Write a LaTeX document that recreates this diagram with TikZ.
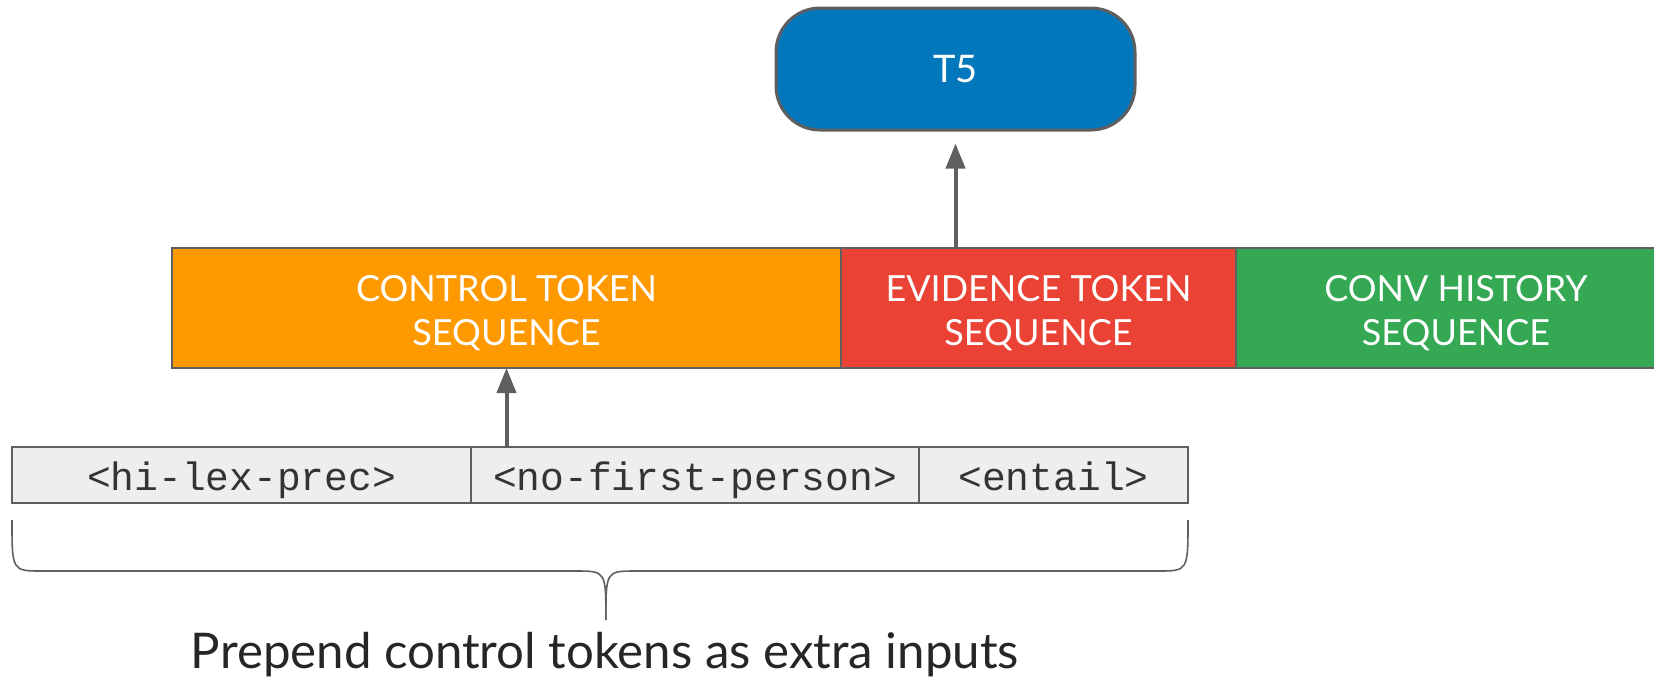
\documentclass[tikz,border=0pt]{standalone}
\usepackage{fontspec}
\setmainfont{Lato}
\setmonofont{Liberation Mono}
\usetikzlibrary{arrows.meta,positioning,calc}
\definecolor{seqorange}{HTML}{FF9900}
\definecolor{seqred}{HTML}{EA4335}
\definecolor{seqgreen}{HTML}{34A853}
\definecolor{modelblue}{HTML}{0377BC}
\definecolor{edgegray}{HTML}{5F5F5F}
\definecolor{tokfill}{HTML}{EEEEEE}
\definecolor{toktext}{HTML}{333333}
\tikzset{
  >={Triangle[length=12.5pt,width=9.5pt]},
  seqbox/.style={draw=edgegray,line width=1pt,outer sep=0pt,align=center,
                 text=white,font=\fontsize{18}{22}\selectfont,
                 text height=37pt,text depth=0pt,
                 minimum height=60pt,inner sep=0pt},
  modelbox/.style={draw=edgegray,line width=1.5pt,fill=modelblue,rounded corners=22pt,
                   text=white,font=\fontsize{19}{22}\selectfont,
                   minimum width=179.5pt,minimum height=61pt,inner sep=0pt},
  tokbox/.style={draw=edgegray,line width=0.8pt,fill=tokfill,outer sep=0pt,
                 text=toktext,font=\ttfamily\fontsize{19.8}{22}\selectfont,
                 text height=15pt,text depth=0pt,
                 minimum height=28pt,inner sep=0pt},
  feedarrow/.style={->,line width=2pt,draw=edgegray,fill=edgegray},
  bracestroke/.style={draw=edgegray,line width=0.8pt},
}

\begin{document}
\begin{tikzpicture}[x=0.5pt,y=-0.5pt]
  \clip (0,0) rectangle (1654,677);
  \node[modelbox] (t5) at (955.5,69) {T5};
  \node[seqbox,fill=seqorange,minimum width=334.5pt] (ctrl) at (506.5,308) {CONTROL TOKEN\\SEQUENCE};
  \node[seqbox,fill=seqred,minimum width=197.5pt,right=0pt of ctrl] (evid) {EVIDENCE TOKEN\\SEQUENCE};
  \node[seqbox,fill=seqgreen,minimum width=220pt,right=0pt of evid] (conv) {CONV HISTORY\\SEQUENCE};
  \node[tokbox,minimum width=229.5pt,anchor=west] (hilex) at (12,475) {<hi-lex-prec>};
  \node[tokbox,minimum width=224pt,right=0pt of hilex] (nofirst) {<no-first-person>};
  \node[tokbox,minimum width=134.5pt,right=0pt of nofirst] (entail) {<entail>};
  \draw[feedarrow] (ctrl.south |- hilex.north) -- (ctrl.south);
  \draw[feedarrow,shorten >=6pt] (t5.south |- evid.north) -- (t5.south);
  % brace under the control tokens
  \coordinate (bl) at ([yshift=-8.5pt]hilex.south west);
  \coordinate (br) at ([yshift=-8.5pt]entail.south east);
  \coordinate (bmid) at ($(bl)!0.505!(br)+(0,-25.5pt)$);
  \coordinate (btip) at ([yshift=-24.5pt]bmid);
  \coordinate (bll) at (bl |- bmid);
  \coordinate (brr) at (br |- bmid);
  \draw[bracestroke] (bl) .. controls (bll) .. ([xshift=15pt]bll) -- ([xshift=-15pt]bmid) .. controls (bmid) .. (btip);
  \draw[bracestroke] (br) .. controls (brr) .. ([xshift=-15pt]brr) -- ([xshift=15pt]bmid) .. controls (bmid) .. (btip);
  \node[anchor=base,font=\fontsize{24.6}{28}\selectfont,text=black!85] (caption) at (605,668) {Prepend control tokens as extra inputs};
\end{tikzpicture}
\end{document}
